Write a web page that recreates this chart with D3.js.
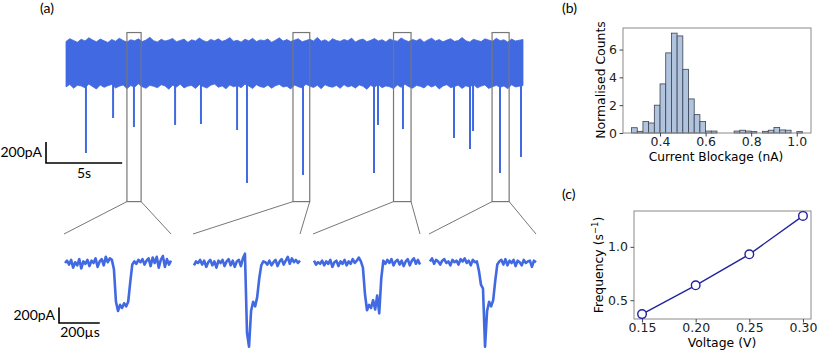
<!DOCTYPE html>
<html>
<head>
<meta charset="utf-8">
<script src="https://cdn.jsdelivr.net/npm/d3@7"></script>
<style>
  body { margin: 0; background: #fff; }
  svg { display: block; }
  .tick text { font-family: "DejaVu Sans", sans-serif; font-size: 12.5px; fill: #222; }
  .tick line { stroke: #444; }
</style>
</head>
<body>
<div id="fig"></div>
<script>
// ---- (a) long trace: noisy band envelope (pA around baseline), sampled every 0.25 s over 30 s
const bandStep = 0.25;
const bandUpper = [
  205,232,214,198,226,210,241,219,202,228,212,196,
  224,208,236,215,199,222,211,230,204,218,245,213,
  200,226,209,219,234,203,215,228,197,221,210,238,
  214,201,225,212,230,206,219,242,208,216,199,227,
  211,235,204,220,213,229,198,217,240,209,223,205,
  218,231,202,214,226,210,244,207,221,200,232,215,
  206,224,212,237,199,219,228,203,216,233,210,222,
  201,229,214,208,239,217,204,225,211,230,198,220,
  236,209,223,202,218,231,206,214,243,212,200,226,
  215,204,230,219,207,235,213,221,199,228,210,217,
  224
];
const bandLower = [
  -228,-205,-240,-212,-219,-236,-201,-225,-247,-210,-232,-216,
  -204,-238,-221,-209,-244,-215,-230,-198,-226,-241,-213,-222,
  -235,-207,-218,-250,-211,-229,-203,-237,-220,-214,-242,-206,
  -224,-239,-212,-200,-231,-218,-246,-209,-227,-215,-236,-202,
  -219,-243,-208,-225,-233,-211,-240,-216,-204,-229,-221,-248,
  -210,-226,-237,-203,-220,-234,-212,-245,-207,-223,-231,-214,
  -241,-206,-228,-217,-239,-209,-222,-251,-213,-230,-205,-236,
  -218,-227,-244,-210,-232,-203,-225,-240,-215,-221,-238,-208,
  -229,-212,-247,-219,-206,-235,-224,-211,-242,-217,-230,-204,
  -237,-220,-209,-243,-226,-213,-232,-218,-245,-207,-228,-222,
  -215
];
// translocation events: time (s) and minimum current (pA)
const eventTimes = [1.31,3.09,4.46,7.16,8.86,11.23,11.88,15.56,20.22,20.48,22.12,25.47,26.52,26.72,28.49,29.87];
const eventDepths = [-857,-524,-610,-590,-581,-638,-1143,-1067,-1048,-590,-629,-714,-819,-648,-1048,-895];
// zoom windows (s)
const boxStart = [4.0, 14.9, 21.5, 27.97];
const boxEnd = [4.93, 16.0, 22.65, 29.09];

// ---- zoomed events, sampled every 10 µs (pA)
const insetStep = 10;
const inset1 = [0,30,-20,40,-60,10,-30,50,-70,20,-10,40,-40,30,0,60,-50,20,50,-30,80,10,60,40,-80,-500,-620,-540,-580,-520,-560,-500,-250,-20,20,-10,40,10,50,-20,30,60,-40,70,0,80,-60,40,90,-50,50,-20,30];
const inset2 = [-30,20,0,40,-20,30,-50,10,40,-30,20,-60,30,0,40,-40,20,50,-30,30,-50,20,40,-40,60,120,-900,-1080,-620,-500,-560,-440,-200,-30,20,10,-20,30,-30,10,40,-40,20,50,-20,30,80,-10,60,10,40,0,30];
const inset3 = [30,-20,10,-10,30,-30,20,-10,40,-50,10,30,-40,20,-10,40,-30,20,-10,50,0,30,70,20,-60,-400,-610,-540,-580,-480,-600,-420,-650,-200,30,-10,40,0,50,-30,20,40,-20,30,-40,20,50,-30,30,60,-10,40,-20];
const inset4 = [20,60,-10,40,20,-20,30,50,0,20,-30,40,10,30,-20,50,20,60,0,30,-30,40,10,20,-100,-280,-330,-1080,-620,-500,-560,-480,-230,-20,20,40,-20,50,-30,30,0,40,-40,30,10,-30,40,0,20,30,-50,30,10];
const insets = [inset1, inset2, inset3, inset4];

// ---- (b) histogram of current blockage
const histStart = 0.275;
const histWidth = 0.025;
const histCounts = [0.38,0.12,0.82,0.72,2.0,3.53,5.76,7.18,6.98,4.58,2.45,1.32,0.82,0.14,0.14,0,0,0,0.14,0.2,0.14,0.1,0,0.12,0.2,0.4,0.22,0.2,0,0.1];
const histXTicks = [0.4, 0.6, 0.8, 1.0];
const histYTicks = [0, 2, 4, 6];

// ---- (c) event frequency vs voltage
const voltages = [0.15, 0.20, 0.25, 0.30];
const frequencies = [0.37, 0.64, 0.93, 1.29];
const freqYTicks = [0.5, 1.0];

const blue = "#4169e1";
const grey = "#777";
const labelFont = "Lato, 'Open Sans', sans-serif";
const mplFont = "'DejaVu Sans', sans-serif";

const svg = d3.select("#fig").append("svg")
    .attr("width", 830)
    .attr("height", 364);

// ================= (a) =================
const tScale = d3.scaleLinear().domain([0, 30]).range([66, 523]);
const iScale = d3.scaleLinear().domain([0, -200]).range([63, 84]);

const band = d3.area()
    .x((d, i) => tScale(i * bandStep))
    .y0((d, i) => iScale(bandLower[i]))
    .y1(d => iScale(d));

svg.append("path")
    .datum(bandUpper)
    .attr("d", band)
    .attr("fill", blue)
    .attr("stroke", blue)
    .attr("stroke-width", 0.8);

svg.append("g").selectAll("line")
    .data(eventTimes)
    .enter().append("line")
    .attr("x1", d => tScale(d))
    .attr("x2", d => tScale(d))
    .attr("y1", iScale(-150))
    .attr("y2", (d, i) => iScale(eventDepths[i]))
    .attr("stroke", blue)
    .attr("stroke-width", 2);

// zoom boxes
const boxTop = iScale(290), boxBottom = iScale(-1320);
svg.append("g").selectAll("rect")
    .data(boxStart)
    .enter().append("rect")
    .attr("x", d => tScale(d))
    .attr("y", boxTop)
    .attr("width", (d, i) => tScale(boxEnd[i]) - tScale(d))
    .attr("height", boxBottom - boxTop)
    .attr("fill", "none")
    .attr("stroke", grey)
    .attr("stroke-width", 1.2);

// insets
const insetLeft = [64, 193, 313, 429];
const insetW = 107;
const insetTop = 234;
const insetY = d3.scaleLinear().domain([0, -200]).range([263, 278.5]);

insets.forEach((vals, k) => {
    const ix = d3.scaleLinear().domain([0, 520]).range([insetLeft[k] + 1, insetLeft[k] + insetW]);
    // connector lines
    svg.append("line")
        .attr("x1", tScale(boxStart[k])).attr("y1", boxBottom)
        .attr("x2", insetLeft[k]).attr("y2", insetTop)
        .attr("stroke", grey).attr("stroke-width", 1);
    svg.append("line")
        .attr("x1", tScale(boxEnd[k])).attr("y1", boxBottom)
        .attr("x2", insetLeft[k] + insetW).attr("y2", insetTop)
        .attr("stroke", grey).attr("stroke-width", 1);

    const line = d3.line()
        .x((d, i) => ix(i * insetStep))
        .y(d => insetY(d));
    svg.append("path")
        .datum(vals)
        .attr("d", line)
        .attr("fill", "none")
        .attr("stroke", blue)
        .attr("stroke-width", 2.6)
        .attr("stroke-linejoin", "round");
});

// scale bars
function scaleBar(x, y, w, h, vLabel, hLabel, hLabelX, vLabelY, hLabelY) {
    svg.append("path")
        .attr("d", `M${x},${y - h}V${y}H${x + w}`)
        .attr("fill", "none")
        .attr("stroke", "#000")
        .attr("stroke-width", 1.6);
    svg.append("text")
        .attr("x", x - 4).attr("y", vLabelY)
        .attr("text-anchor", "end")
        .attr("font-family", labelFont).attr("font-size", 14)
        .text(vLabel);
    svg.append("text")
        .attr("x", hLabelX).attr("y", hLabelY)
        .attr("text-anchor", "middle")
        .attr("font-family", labelFont).attr("font-size", 14)
        .text(hLabel);
}
scaleBar(46, 163, tScale(5) - tScale(0), iScale(-200) - iScale(0), "200pA", "5s", 84, 157, 178);
{
    const ix = d3.scaleLinear().domain([0, 520]).range([0, insetW - 1]);
    scaleBar(59, 323, ix(200), insetY(-200) - insetY(0), "200pA", "200µs", 80, 320, 337);
}

// panel letters
[["(a)", 40, 13], ["(b)", 562, 13], ["(c)", 562, 199]].forEach(([t, x, y]) => {
    svg.append("text")
        .attr("x", x).attr("y", y)
        .attr("font-family", labelFont).attr("font-size", 14)
        .text(t);
});

// ================= (b) =================
const hx = d3.scaleLinear().domain([0.2375, 1.0625]).range([623, 811]);
const hy = d3.scaleLinear().domain([0, 7.55]).range([133, 28]);

svg.append("g").selectAll("rect")
    .data(histCounts)
    .enter().append("rect")
    .attr("x", (d, i) => hx(histStart + i * histWidth))
    .attr("width", hx(histStart + histWidth) - hx(histStart))
    .attr("y", d => hy(d))
    .attr("height", d => hy(0) - hy(d))
    .attr("fill", "#b0c4de")
    .attr("stroke", d => d > 0 ? "#3b4252" : "none")
    .attr("stroke-width", 0.8);

function frame(x0, x1, y0, y1) {
    svg.append("rect")
        .attr("x", x0).attr("y", y0)
        .attr("width", x1 - x0).attr("height", y1 - y0)
        .attr("fill", "none").attr("stroke", "#8a8a8a").attr("stroke-width", 1);
}
frame(623, 811, 28, 133);

svg.append("g")
    .attr("transform", "translate(0,133)")
    .call(d3.axisBottom(hx).tickValues(histXTicks).tickFormat(d3.format(".1f")).tickSize(3.5).tickPadding(1))
    .call(g => g.select(".domain").remove());
svg.append("g")
    .attr("transform", "translate(623,0)")
    .call(d3.axisLeft(hy).tickValues(histYTicks).tickSize(3.5).tickPadding(2.5))
    .call(g => g.select(".domain").remove());

svg.append("text")
    .attr("x", 716).attr("y", 161)
    .attr("text-anchor", "middle")
    .attr("font-family", mplFont).attr("font-size", 12.2)
    .text("Current Blockage (nA)");
svg.append("text")
    .attr("transform", "translate(605,80) rotate(-90)")
    .attr("text-anchor", "middle")
    .attr("font-family", mplFont).attr("font-size", 12.4)
    .text("Normalised Counts");

// ================= (c) =================
const fx = d3.scaleLinear().domain([0.1425, 0.3075]).range([634, 811]);
const fy = d3.scaleLinear().domain([0.324, 1.336]).range([319, 211]);

frame(634, 811, 211, 319);

svg.append("g")
    .attr("transform", "translate(0,319)")
    .call(d3.axisBottom(fx).tickValues(voltages).tickFormat(d3.format(".2f")).tickSize(3.5).tickPadding(1))
    .call(g => g.select(".domain").remove());
svg.append("g")
    .attr("transform", "translate(634,0)")
    .call(d3.axisLeft(fy).tickValues(freqYTicks).tickFormat(d3.format(".1f")).tickSize(3.5).tickPadding(2.5))
    .call(g => g.select(".domain").remove());

svg.append("path")
    .datum(voltages)
    .attr("d", d3.line().x(d => fx(d)).y((d, i) => fy(frequencies[i])))
    .attr("fill", "none")
    .attr("stroke", "#2222a0")
    .attr("stroke-width", 1.4);

svg.append("g").selectAll("circle")
    .data(voltages)
    .enter().append("circle")
    .attr("cx", d => fx(d))
    .attr("cy", (d, i) => fy(frequencies[i]))
    .attr("r", 4.3)
    .attr("fill", "#fff")
    .attr("stroke", "#2222a0")
    .attr("stroke-width", 1.4);

svg.append("text")
    .attr("x", 722).attr("y", 347)
    .attr("text-anchor", "middle")
    .attr("font-family", mplFont).attr("font-size", 12.4)
    .text("Voltage (V)");
const fl = svg.append("text")
    .attr("transform", "translate(603,265) rotate(-90)")
    .attr("text-anchor", "middle")
    .attr("font-family", mplFont).attr("font-size", 12.4);
fl.append("tspan").text("Frequency (s");
fl.append("tspan").attr("font-size", 8.5).attr("dy", -5).text("−1");
fl.append("tspan").attr("dy", 5).text(")");
</script>
</body>
</html>
